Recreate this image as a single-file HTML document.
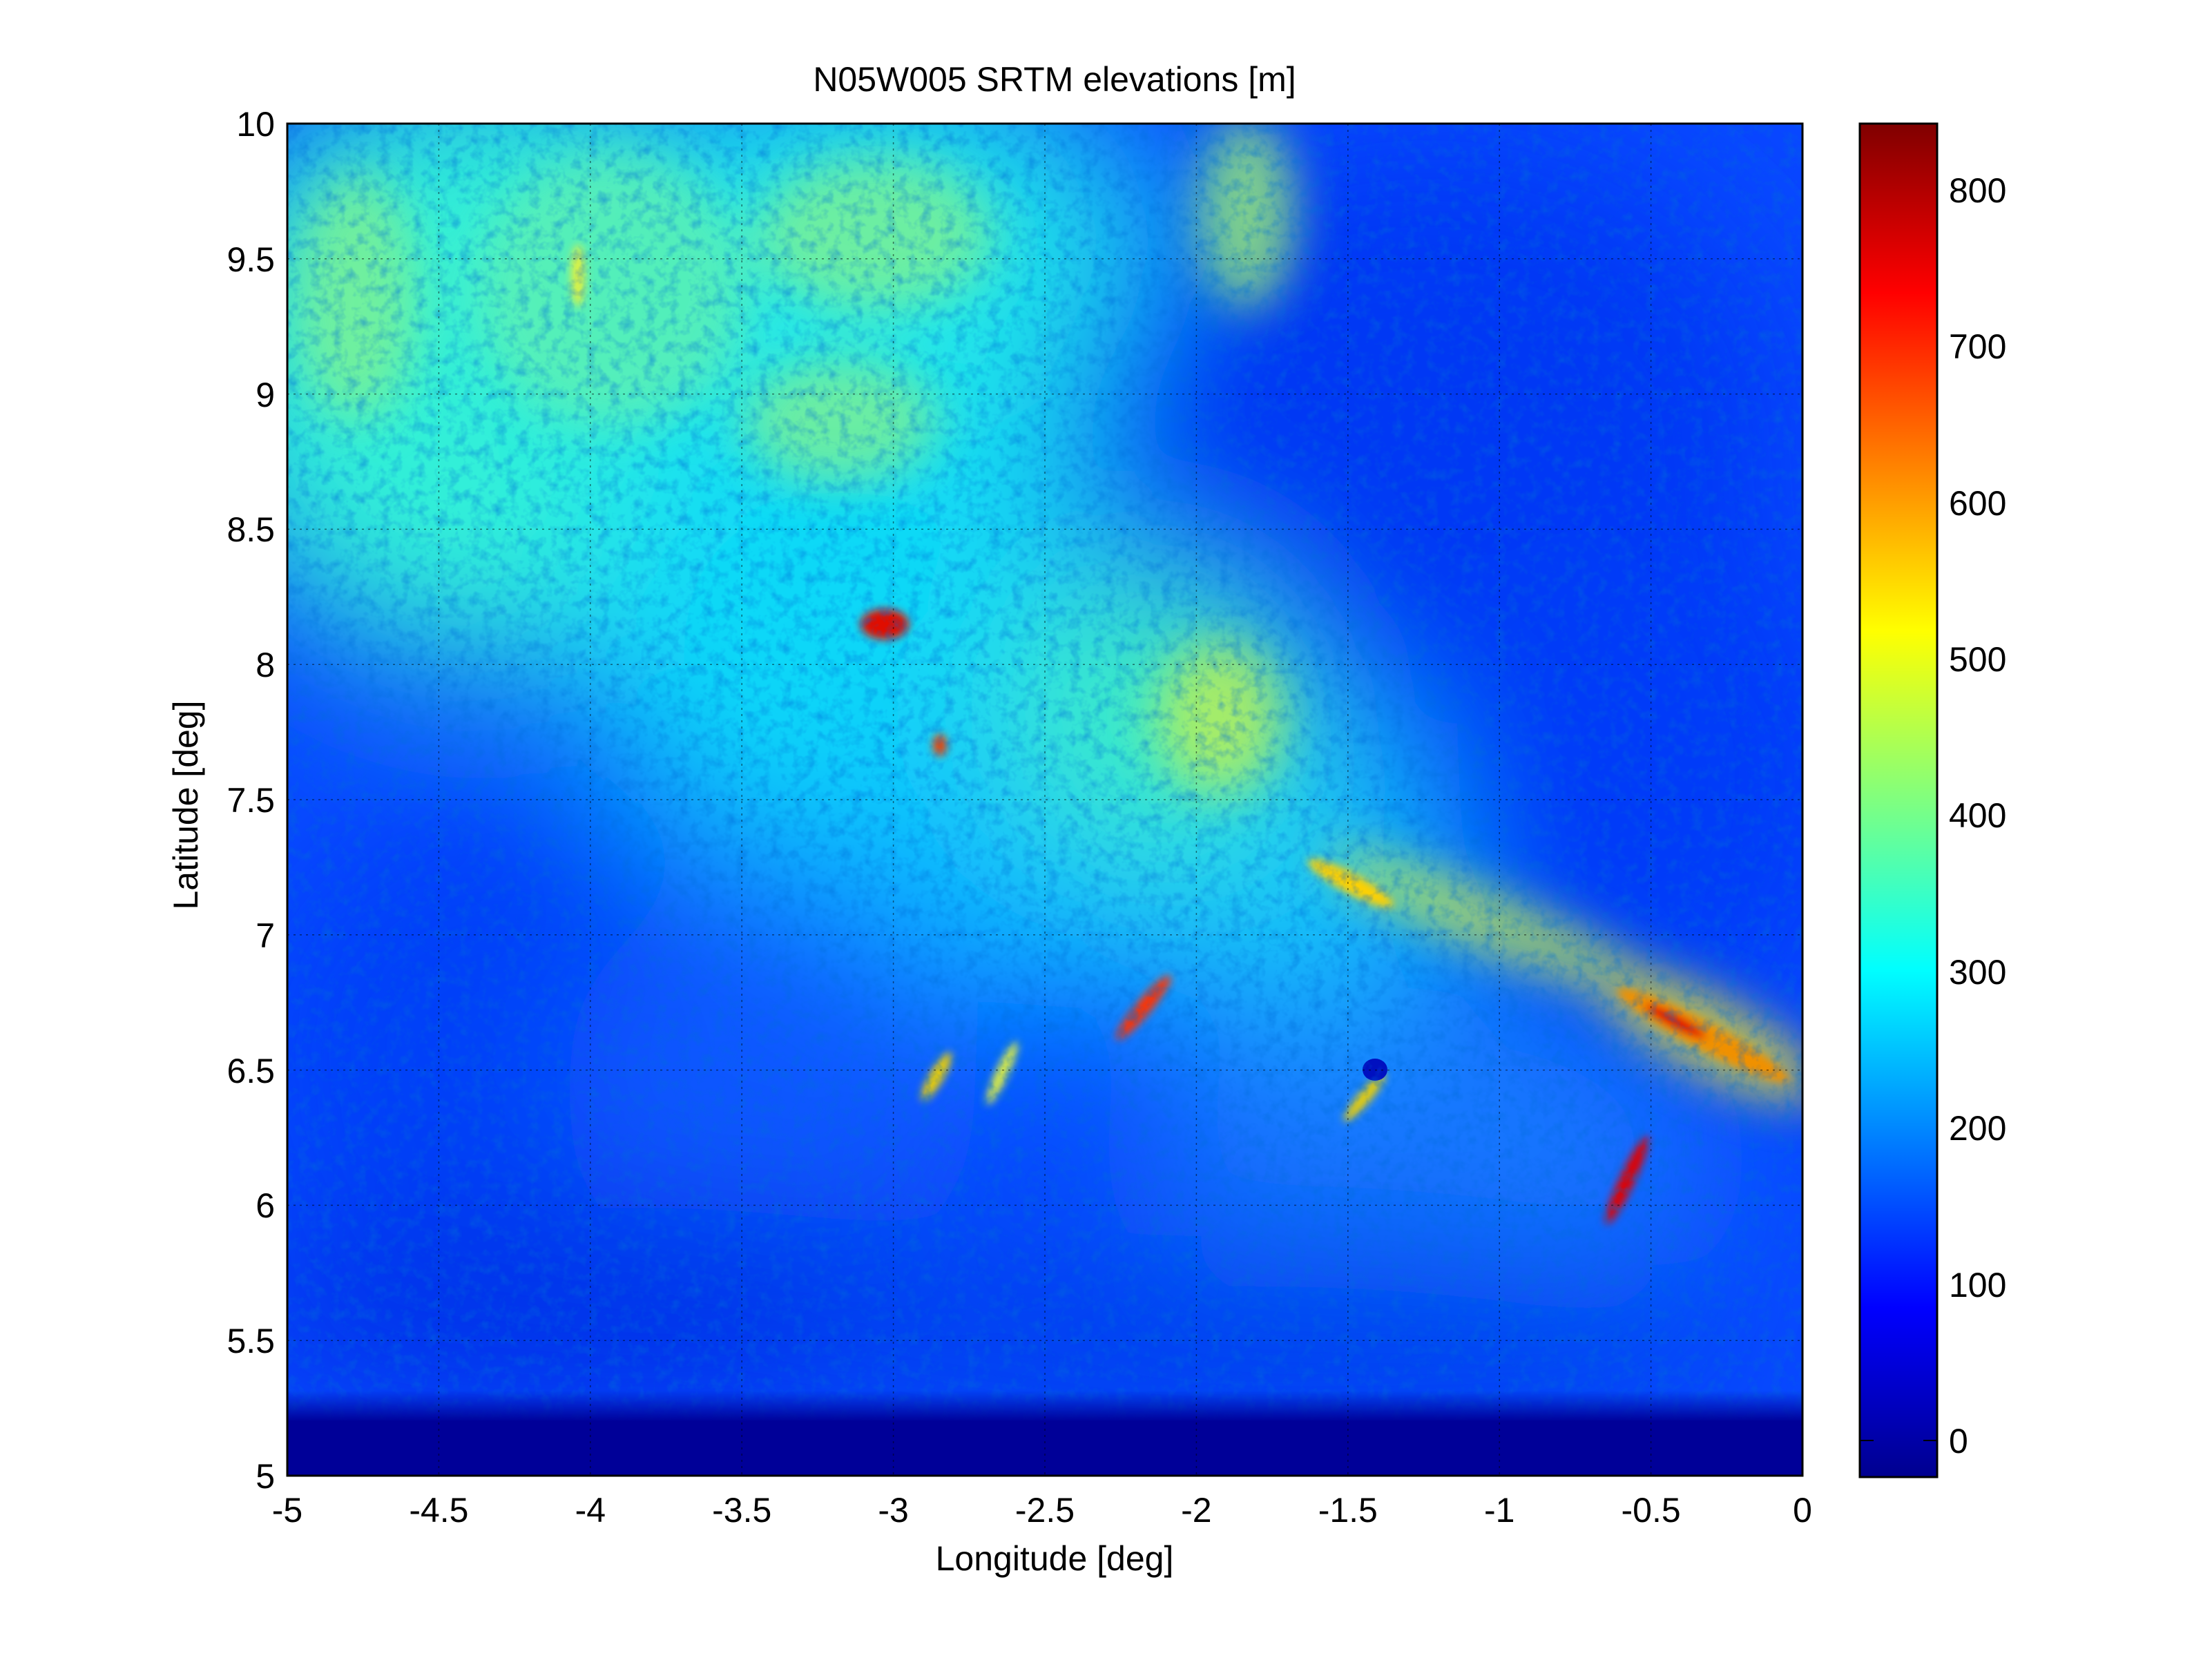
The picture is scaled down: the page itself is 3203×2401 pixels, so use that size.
<!DOCTYPE html>
<html><head><meta charset="utf-8"><style>
html,body{margin:0;padding:0;background:#fff;}
svg{display:block}
text{font-family:"Liberation Sans",Arial,sans-serif;fill:#000}
</style></head><body>
<svg width="3203" height="2401" viewBox="0 0 3203 2401" xmlns="http://www.w3.org/2000/svg">
<defs>
<linearGradient id="jet" x1="0" y1="1" x2="0" y2="0">
<stop offset="0" stop-color="#00008f"/><stop offset="0.125" stop-color="#0000ff"/>
<stop offset="0.375" stop-color="#00ffff"/><stop offset="0.625" stop-color="#ffff00"/>
<stop offset="0.875" stop-color="#ff0000"/><stop offset="1" stop-color="#800000"/>
</linearGradient>
<linearGradient id="bot" x1="0" y1="0" x2="0" y2="1">
<stop offset="0" stop-color="#000098" stop-opacity="0"/><stop offset="1" stop-color="#000098"/>
</linearGradient>
<filter id="b1" filterUnits="userSpaceOnUse" x="-800" y="-800" width="3800" height="3600"><feGaussianBlur stdDeviation="110"/></filter>
<filter id="b2" filterUnits="userSpaceOnUse" x="-800" y="-800" width="3800" height="3600"><feGaussianBlur stdDeviation="35"/></filter>
<filter id="b3" filterUnits="userSpaceOnUse" x="-800" y="-800" width="3800" height="3600"><feGaussianBlur stdDeviation="6"/></filter>
<filter id="tex"><feTurbulence type="fractalNoise" baseFrequency="0.06" numOctaves="3" seed="4"/><feColorMatrix type="matrix" values="0 0 0 0 0  0 0 0 0 0.15  0 0 0 0 0.7  0 0 0 -1.0 0.55"/></filter>
<clipPath id="pc"><rect x="0" y="0" width="2194" height="1958"/></clipPath>
</defs>
<text x="1527" y="132" font-size="50" text-anchor="middle">N05W005 SRTM elevations [m]</text>
<g transform="translate(416,179)" clip-path="url(#pc)">
<rect width="2194" height="1958" fill="#0848ff"/>
<g filter="url(#b1)">
<ellipse cx="300" cy="350" rx="450" ry="450" fill="#30f0d8"/>
<ellipse cx="850" cy="300" rx="450" ry="400" fill="#20e8e8"/>
<ellipse cx="800" cy="750" rx="380" ry="330" fill="#10d8f8"/>
<ellipse cx="1150" cy="1050" rx="400" ry="220" fill="#10c0ff"/>
<ellipse cx="1450" cy="1050" rx="300" ry="250" fill="#18c8f8"/>
<ellipse cx="1650" cy="450" rx="520" ry="420" fill="#0038f4"/>
<ellipse cx="1950" cy="950" rx="330" ry="380" fill="#003af8"/>
<ellipse cx="300" cy="1350" rx="350" ry="350" fill="#0040f8"/>
<ellipse cx="700" cy="1400" rx="300" ry="300" fill="#0a58ff"/>
<ellipse cx="1650" cy="1500" rx="400" ry="250" fill="#1478ff"/>
<ellipse cx="500" cy="1720" rx="600" ry="150" fill="#0030e8"/>
<ellipse cx="1400" cy="1760" rx="700" ry="150" fill="#0040f0"/>
<ellipse cx="1250" cy="850" rx="200" ry="200" fill="#40f0c0"/>
</g>
<g filter="url(#b2)" opacity="0.8">
<ellipse cx="100" cy="250" rx="90" ry="180" fill="#80f090"/>
<ellipse cx="850" cy="160" rx="170" ry="110" fill="#80f090"/>
<ellipse cx="800" cy="430" rx="140" ry="90" fill="#80f090"/>
<ellipse cx="470" cy="240" rx="200" ry="200" fill="#60f0b0"/>
<ellipse cx="1390" cy="130" rx="70" ry="140" fill="#a0f070"/>
<ellipse cx="1350" cy="860" rx="90" ry="110" fill="#c0f050"/>
<ellipse cx="1750" cy="1160" rx="260" ry="40" fill="#d0f040" transform="rotate(22 1750 1160)"/>
<ellipse cx="2060" cy="1320" rx="180" ry="55" fill="#f0e020" transform="rotate(28 2060 1320)"/>
</g>
<g filter="url(#b3)">
<ellipse cx="1540" cy="1100" rx="70" ry="14" fill="#ffd000" transform="rotate(28 1540 1100)"/>
<ellipse cx="2050" cy="1320" rx="140" ry="20" fill="#f09000" transform="rotate(28 2050 1320)"/>
<ellipse cx="2010" cy="1300" rx="50" ry="10" fill="#e00000" transform="rotate(28 2010 1300)"/>
<ellipse cx="1240" cy="1280" rx="60" ry="11" fill="#ff3000" transform="rotate(-50 1240 1280)"/>
<ellipse cx="1940" cy="1530" rx="70" ry="11" fill="#e00000" transform="rotate(-65 1940 1530)"/>
<ellipse cx="865" cy="725" rx="35" ry="22" fill="#e01000"/>
<ellipse cx="945" cy="900" rx="10" ry="16" fill="#f04000"/>
<ellipse cx="940" cy="1380" rx="40" ry="10" fill="#f0d000" transform="rotate(-60 940 1380)"/>
<ellipse cx="1560" cy="1410" rx="45" ry="9" fill="#f0d000" transform="rotate(-50 1560 1410)"/>
<ellipse cx="1035" cy="1375" rx="50" ry="9" fill="#e0f040" transform="rotate(-65 1035 1375)"/>
<ellipse cx="421" cy="220" rx="10" ry="45" fill="#e0f040"/>
</g>
<ellipse cx="1575" cy="1370" rx="18" ry="16" fill="#0010c0"/>
<rect width="2194" height="1958" filter="url(#tex)"/>
<rect x="0" y="1835" width="2194" height="45" fill="url(#bot)"/>
<rect x="0" y="1878" width="2194" height="80" fill="#000098"/>
</g>
<g stroke="#000" stroke-width="1.5" stroke-dasharray="3,6" opacity="0.5">
<line x1="635.4" y1="179" x2="635.4" y2="2137"/><line x1="854.8" y1="179" x2="854.8" y2="2137"/><line x1="1074.2" y1="179" x2="1074.2" y2="2137"/><line x1="1293.6" y1="179" x2="1293.6" y2="2137"/><line x1="1513" y1="179" x2="1513" y2="2137"/><line x1="1732.4" y1="179" x2="1732.4" y2="2137"/><line x1="1951.8" y1="179" x2="1951.8" y2="2137"/><line x1="2171.2" y1="179" x2="2171.2" y2="2137"/><line x1="2390.6" y1="179" x2="2390.6" y2="2137"/>
<line x1="416" y1="374.8" x2="2610" y2="374.8"/><line x1="416" y1="570.6" x2="2610" y2="570.6"/><line x1="416" y1="766.4" x2="2610" y2="766.4"/><line x1="416" y1="962.2" x2="2610" y2="962.2"/><line x1="416" y1="1158" x2="2610" y2="1158"/><line x1="416" y1="1353.8" x2="2610" y2="1353.8"/><line x1="416" y1="1549.6" x2="2610" y2="1549.6"/><line x1="416" y1="1745.4" x2="2610" y2="1745.4"/><line x1="416" y1="1941.2" x2="2610" y2="1941.2"/>
</g>
<rect x="416" y="179" width="2194" height="1958" fill="none" stroke="#000" stroke-width="3"/>
<g font-size="50" text-anchor="middle">
<text x="416" y="2204">-5</text><text x="635.4" y="2204">-4.5</text><text x="854.8" y="2204">-4</text><text x="1074.2" y="2204">-3.5</text><text x="1293.6" y="2204">-3</text><text x="1513" y="2204">-2.5</text><text x="1732.4" y="2204">-2</text><text x="1951.8" y="2204">-1.5</text><text x="2171.2" y="2204">-1</text><text x="2390.6" y="2204">-0.5</text><text x="2610" y="2204">0</text>
</g>
<g font-size="50" text-anchor="end">
<text x="398" y="197">10</text><text x="398" y="393">9.5</text><text x="398" y="589">9</text><text x="398" y="784">8.5</text><text x="398" y="980">8</text><text x="398" y="1176">7.5</text><text x="398" y="1372">7</text><text x="398" y="1568">6.5</text><text x="398" y="1763">6</text><text x="398" y="1959">5.5</text><text x="398" y="2155">5</text>
</g>
<text x="1527" y="2274" font-size="50" text-anchor="middle">Longitude [deg]</text>
<text x="0" y="0" font-size="50" text-anchor="middle" transform="translate(286,1166) rotate(-90)">Latitude [deg]</text>
<rect x="2693" y="179" width="112" height="1960" fill="url(#jet)" stroke="#000" stroke-width="3"/>
<g stroke="#000" stroke-width="2">
<line x1="2693" y1="2086" x2="2713" y2="2086"/><line x1="2785" y1="2086" x2="2805" y2="2086"/>
</g>
<g font-size="50">
<text x="2822" y="2104">0</text><text x="2822" y="1878">100</text><text x="2822" y="1651">200</text><text x="2822" y="1425">300</text><text x="2822" y="1198">400</text><text x="2822" y="972">500</text><text x="2822" y="746">600</text><text x="2822" y="519">700</text><text x="2822" y="293">800</text>
</g>
</svg>
</body></html>
